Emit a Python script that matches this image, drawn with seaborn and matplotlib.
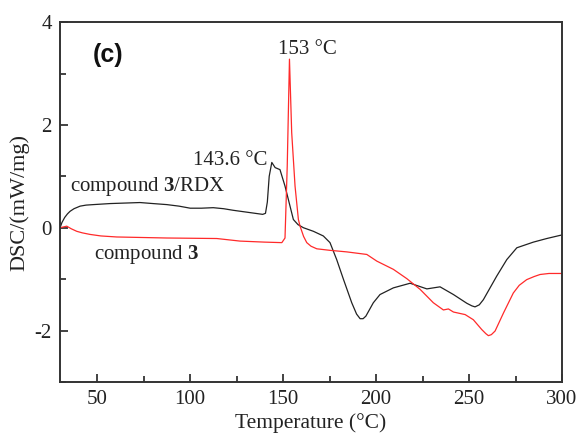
import matplotlib
matplotlib.use("Agg")
import matplotlib.pyplot as plt
import seaborn as sns
import pandas as pd
from matplotlib.ticker import MultipleLocator

# compound 3/RDX (black)
mix_T = [30, 31, 32.5, 34, 35.4, 37.5, 40.8, 44, 48, 56.9, 65, 73, 80, 87.4, 94, 100, 106, 112.4, 118, 123, 131,
         139, 140.5, 141.5, 142.5, 143.9, 145.7, 148.3, 151, 153.7, 155.5, 158, 160.9, 166.3, 171.6, 175.2,
         178.8, 182.4, 186.9, 189.5, 191.4, 193, 194.5, 198.5, 202.1, 209.3, 218.3, 227.3, 234.4, 241.6, 248.8,
         251.5, 253.2, 255.5, 257.7, 264.9, 270.3, 275.7, 284.6, 291.8, 300]
mix_D = [0.0, 0.1, 0.2, 0.27, 0.32, 0.37, 0.42, 0.44, 0.45, 0.47, 0.48, 0.49, 0.47, 0.45, 0.42, 0.38, 0.38, 0.39,
         0.37, 0.34, 0.30, 0.26, 0.28, 0.5, 1.0, 1.27, 1.17, 1.13, 0.81, 0.42, 0.16, 0.06, 0.0, -0.07, -0.16,
         -0.29, -0.62, -1.0, -1.46, -1.68, -1.77, -1.77, -1.72, -1.46, -1.30, -1.17, -1.08, -1.19, -1.15, -1.30,
         -1.47, -1.52, -1.54, -1.50, -1.40, -0.94, -0.62, -0.39, -0.28, -0.21, -0.14]

# compound 3 (red)
c3_T = [30, 33.6, 36, 39, 42, 46.1, 52, 60.5, 87.4, 114.3, 126.8, 140, 149.3, 151, 152.2, 153.4, 154.6, 156.4,
        158.2, 159.1, 161, 162.7, 165, 168.1, 175.2, 184.2, 195, 200.4, 209.3, 216.5, 223.7, 230.8, 236.2, 238.9,
        241.6, 247.9, 252.3, 256.8, 259, 260.4, 262, 264, 268.5, 273.8, 277, 281, 285, 288.2, 293, 300]
c3_D = [0.0, 0.03, -0.02, -0.07, -0.10, -0.13, -0.16, -0.18, -0.20, -0.21, -0.26, -0.28, -0.29, -0.20, 1.2, 3.28,
        1.85, 0.81, 0.16, 0.03, -0.17, -0.29, -0.36, -0.41, -0.44, -0.47, -0.52, -0.65, -0.81, -0.99, -1.2,
        -1.46, -1.6, -1.58, -1.64, -1.69, -1.79, -1.98, -2.06, -2.10, -2.08, -2.01, -1.66, -1.27, -1.12, -1.01,
        -0.95, -0.91, -0.89, -0.89]

x_ticks = [50, 100, 150, 200, 250, 300]
y_ticks = [-2, 0, 2, 4]

sns.set_theme(style="ticks")
plt.rcParams['font.family'] = ['Liberation Serif', 'DejaVu Serif']
plt.rcParams['mathtext.fontset'] = 'custom'
plt.rcParams['mathtext.rm'] = 'Liberation Serif'
plt.rcParams['mathtext.bf'] = 'Liberation Serif:bold'
plt.rcParams['axes.unicode_minus'] = False

fig = plt.figure(figsize=(5.83, 4.34), dpi=100)
ax = fig.add_axes([0.103, 0.12, 0.861, 0.829])

df_mix = pd.DataFrame({"T": mix_T, "D": mix_D})
df_c3 = pd.DataFrame({"T": c3_T, "D": c3_D})
sns.lineplot(data=df_mix, x="T", y="D", ax=ax, color="#222222", linewidth=0.9, sort=False, estimator=None)
sns.lineplot(data=df_c3, x="T", y="D", ax=ax, color="#ff2a2a", linewidth=0.9, sort=False, estimator=None)

ax.set_xlim(30, 300)
ax.set_ylim(-3, 4)
ax.set_xticks(x_ticks)
ax.set_yticks(y_ticks)
ax.xaxis.set_minor_locator(MultipleLocator(25))
ax.yaxis.set_minor_locator(MultipleLocator(1))
ax.tick_params(which='both', direction='in', top=False, right=False, labelsize=15, colors='#222222')
ax.tick_params(which='major', length=6, width=1.2, pad=6)
ax.tick_params(which='minor', length=4, width=1.2)
for s in ax.spines.values():
    s.set_visible(True)
    s.set_linewidth(1.4)
    s.set_color('#333333')
    s.set_zorder(6)

ax.set_xlabel("Temperature (°C)", fontsize=15.5, labelpad=3, color='#222222')
ax.set_ylabel("DSC/(mW/mg)", fontsize=16, labelpad=4, color='#222222')

ax.text(55.8, 3.37, "(c)", fontsize=18, fontweight='bold', family=['Liberation Sans', 'DejaVu Sans'],
        ha='center', va='center', color='#111111')
ax.text(162.9, 3.47, "153 °C", fontsize=15, ha='center', va='center', color='#222222')
ax.text(121.7, 1.31, "143.6 °C", fontsize=15, ha='center', va='center', color='#222222')
ax.text(77.3, 0.81, r"compound $\mathbf{3}$/RDX", fontsize=15, ha='center', va='center', color='#222222')
ax.text(76.3, -0.52, r"compound $\mathbf{3}$", fontsize=15, ha='center', va='center', color='#222222')

fig.savefig("out.png", dpi=100)
